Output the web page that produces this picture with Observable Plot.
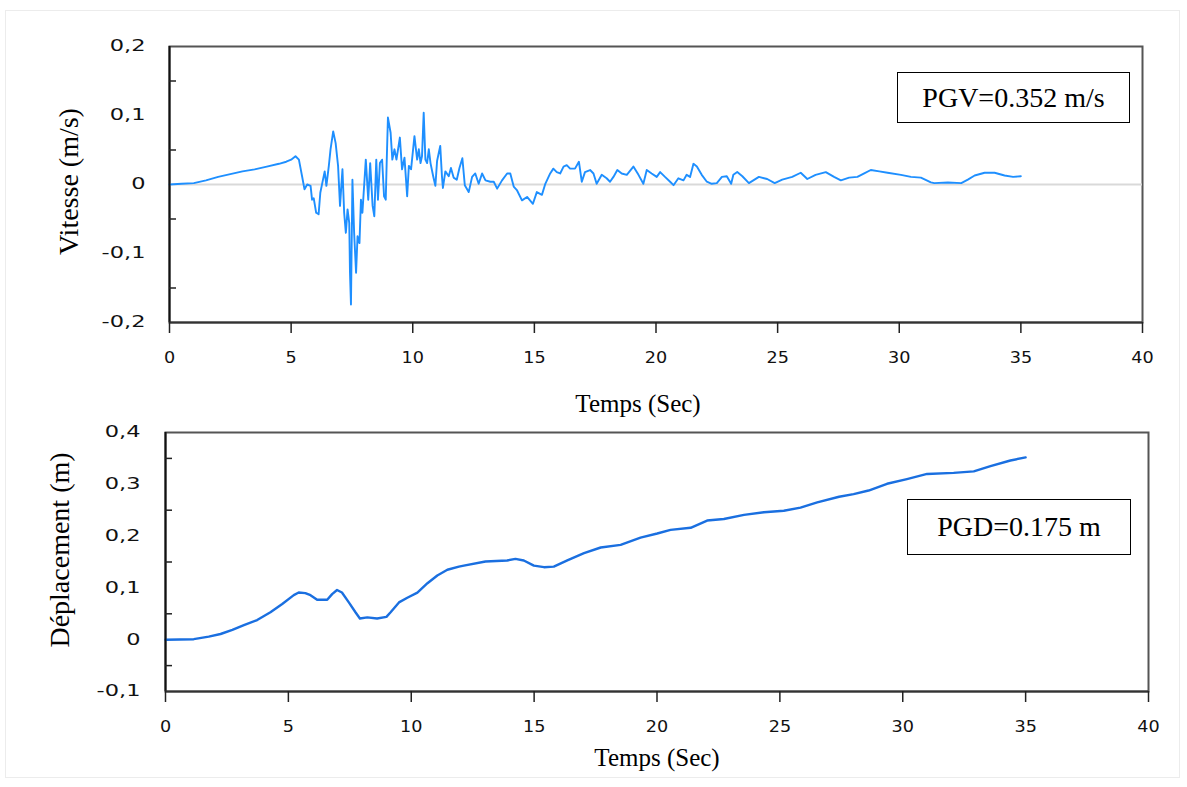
<!DOCTYPE html>
<html><head><meta charset="utf-8">
<script src="https://cdn.jsdelivr.net/npm/d3@7"></script>
<script src="https://cdn.jsdelivr.net/npm/@observablehq/plot@0.6"></script>
<style>
body{margin:0;background:#fff;}
#wrap{position:relative;width:1187px;height:787px;background:#fff;overflow:hidden;}
#edge{position:absolute;left:5px;top:10px;width:1175px;height:768px;border:1px solid #ececec;box-sizing:border-box;}
.panel{position:absolute;left:0;}
.box{position:absolute;border:1.5px solid #000;display:flex;align-items:center;justify-content:center;font-family:"Liberation Serif","Times New Roman",serif;font-size:28px;color:#000;background:#fff;box-sizing:border-box;}
</style></head><body>
<div id="wrap">
  <div id="edge"></div>
  <div id="top" class="panel" style="top:0px"></div>
  <div id="bot" class="panel" style="top:400px"></div>
  <div class="box" style="left:897px;top:72px;width:233px;height:51px">PGV=0.352 m/s</div>
  <div class="box" style="left:907px;top:499px;width:224px;height:56px">PGD=0.175 m</div>
</div>
<script>
// ---- data ----
const velTime = [
  0,0.5,1.0,1.5,2.0,2.5,3.0,3.5,4.0,4.5,
  4.8,5.0,5.18,5.32,5.45,5.55,5.66,5.8,5.86,5.93,
  6.03,6.13,6.2,6.31,6.38,6.45,6.55,6.62,6.73,6.83,
  6.93,7.01,7.11,7.18,7.25,7.32,7.39,7.42,7.46,7.52,
  7.59,7.67,7.73,7.81,7.87,7.93,8.07,8.17,8.25,8.35,
  8.42,8.5,8.57,8.65,8.74,8.82,8.89,8.93,8.98,9.09,
  9.16,9.25,9.33,9.47,9.56,9.66,9.77,9.84,9.93,10.07,
  10.18,10.25,10.32,10.38,10.45,10.52,10.59,10.66,10.73,10.84,
  10.93,11.0,11.13,11.2,11.24,11.34,11.48,11.57,11.68,11.81,
  11.92,12.04,12.14,12.3,12.44,12.57,12.71,12.85,12.99,13.19,
  13.33,13.47,13.67,13.88,14.01,14.15,14.28,14.49,14.7,14.94,
  15.1,15.31,15.45,15.65,15.78,15.92,16.06,16.2,16.33,16.47,
  16.67,16.83,16.95,17.08,17.29,17.43,17.56,17.77,17.97,18.11,
  18.25,18.41,18.59,18.8,19.07,19.28,19.48,19.62,19.82,20.03,
  20.17,20.37,20.58,20.72,20.92,21.13,21.26,21.4,21.54,21.68,
  21.88,22.09,22.29,22.5,22.71,22.91,23.09,23.18,23.34,23.55,
  23.82,24.23,24.57,24.88,25.19,25.6,25.95,26.22,26.56,26.98,
  27.32,27.6,27.94,28.28,28.56,28.83,29.18,29.52,30.07,30.48,
  30.89,31.3,31.44,32.0,32.55,32.82,33.1,33.51,33.92,34.33,
  34.68,35.0
];
const velValue = [
  0,0.001,0.002,0.006,0.011,0.015,0.019,0.022,0.026,0.030,
  0.033,0.036,0.041,0.036,0.012,-0.007,0.000,-0.002,-0.022,-0.020,
  -0.041,-0.043,-0.012,0.007,0.019,-0.002,0.027,0.051,0.077,0.060,
  0.027,-0.031,0.022,-0.041,-0.070,-0.036,-0.056,-0.128,-0.174,0.007,
  -0.070,-0.128,-0.075,-0.085,-0.022,-0.041,0.036,-0.022,0.031,-0.031,
  -0.046,0.036,-0.022,0.031,0.036,-0.017,-0.022,0.034,0.097,0.075,
  0.036,0.051,0.036,0.068,0.022,0.039,-0.017,0.027,0.022,0.070,
  0.036,0.051,0.031,0.041,0.104,0.036,0.031,0.051,0.031,0.012,
  -0.002,0.034,0.056,0.012,-0.005,0.019,0.012,0.024,0.010,0.007,
  0.024,0.038,-0.001,-0.011,0.011,0.016,0.001,0.016,0.006,0.004,
  0.004,-0.006,0.006,0.016,0.016,-0.003,-0.008,-0.023,-0.018,-0.028,
  -0.011,-0.015,0.001,0.016,0.023,0.018,0.016,0.026,0.028,0.023,
  0.023,0.033,0.004,0.018,0.021,0.016,0.001,0.014,0.009,0.004,
  0.011,0.021,0.016,0.014,0.026,0.014,0.001,0.021,0.016,0.011,
  0.018,0.011,0.004,-0.001,0.009,0.006,0.014,0.011,0.030,0.026,
  0.014,0.004,0.001,0.002,0.011,0.012,0.001,0.014,0.018,0.012,
  0.002,0.011,0.008,0.002,0.007,0.011,0.017,0.008,0.014,0.018,
  0.011,0.006,0.010,0.011,0.016,0.021,0.019,0.017,0.014,0.011,
  0.010,0.003,0.002,0.003,0.002,0.007,0.013,0.017,0.017,0.013,
  0.011,0.012
];
const dispTime = [
  0,1.15,1.76,2.24,2.72,3.19,3.73,4.27,4.75,5.22,
  5.42,5.69,5.9,6.17,6.58,6.78,6.98,7.18,7.46,7.73,
  7.91,8.21,8.61,8.99,9.16,9.5,9.84,10.25,10.66,11.06,
  11.47,11.94,12.14,13.02,13.9,14.24,14.58,14.99,15.4,15.8,
  16.35,17.03,17.71,18.52,19.33,20.01,20.55,21.37,22.04,22.72,
  23.54,24.35,25.16,25.84,26.52,27.41,28.0,28.61,29.36,30.17,
  30.99,32.07,32.89,33.57,34.38,35.0
];
const dispValue = [
  0,0.001,0.006,0.011,0.019,0.028,0.038,0.053,0.069,0.086,
  0.091,0.090,0.086,0.077,0.077,0.088,0.096,0.091,0.072,0.053,
  0.041,0.043,0.041,0.044,0.053,0.072,0.081,0.091,0.109,0.124,
  0.135,0.141,0.143,0.151,0.153,0.156,0.153,0.143,0.140,0.141,
  0.153,0.167,0.178,0.183,0.197,0.205,0.212,0.216,0.230,0.233,
  0.241,0.246,0.249,0.255,0.265,0.276,0.281,0.288,0.301,0.310,
  0.320,0.322,0.325,0.335,0.346,0.352
];
const xTicks = [0,5,10,15,20,25,30,35,40];
const velTicks = [-0.2,-0.1,0,0.1,0.2];
const velMinorTicks = [-0.15,-0.05,0.05,0.15];
const dispTicks = [-0.1,0,0.1,0.2,0.3,0.4];
const dispMinorTicks = [-0.05,0.05,0.15,0.25,0.35];
const xTitle = "Temps (Sec)";
const velTitle = "Vitesse (m/s)";
const dispTitle = "Déplacement (m)";

const commaFmt = d => d === 0 ? "0" : d3.format(".1f")(d).replace(".", ",").replace("\u2212", "-");

function panel(o) {
  const data = o.time.map((t, i) => ({t, v: o.values[i]}));
  const innerW = o.width - o.mL - o.mR;
  const serif = "Liberation Serif, Times New Roman, serif";
  const marks = [
    Plot.frame({stroke: "#555", strokeWidth: 2}),
  ];
  if (o.zeroLine) marks.push(Plot.ruleY([0], {stroke: "#d9d9d9", strokeWidth: 2}));
  marks.push(
    Plot.line(data, {x: "t", y: "v", stroke: o.color, strokeWidth: o.lineWidth, strokeLinejoin: "round"}),
    Plot.ruleX([0], {stroke: "#111", strokeWidth: 2}),
    Plot.ruleY([o.yDomain[0]], {stroke: "#333", strokeWidth: 2}),
    Plot.ruleY(o.yMinor, {stroke: "#222", strokeWidth: 1.5, insetRight: innerW - 7}),
    Plot.axisX({ticks: xTicks, tickSize: 11, tickPadding: 18, tickFormat: d => String(d), label: null, fontSize: 16, stroke: "#222", strokeWidth: 1.5, fill: "#111"}),
    Plot.axisY({ticks: o.yTicks, tickSize: 0, tickPadding: o.yPad, tickFormat: commaFmt, label: null, fontSize: 15, fill: "#111"}),
    Plot.text([o.yLabel], {frameAnchor: "left", textAnchor: "middle", lineAnchor: "middle", dx: o.yLabelDx, dy: o.yLabelDy, rotate: -90, fontSize: 28, fontFamily: serif, fill: "#000"}),
    Plot.text([xTitle], {frameAnchor: "bottom", textAnchor: "middle", lineAnchor: "middle", dx: o.xLabelDx, dy: o.xLabelDy, fontSize: 25, fontFamily: serif, fill: "#000"})
  );
  return Plot.plot({
    width: o.width, height: o.height,
    marginLeft: o.mL, marginRight: o.mR, marginTop: o.mT, marginBottom: o.mB,
    style: {fontFamily: "DejaVu Sans, Verdana, sans-serif", color: "#111", background: "transparent", overflow: "visible"},
    x: {domain: [0, 40]},
    y: {domain: o.yDomain},
    marks
  });
}

function stretch(svg, sel, factor) {
  svg.querySelectorAll(sel).forEach(t => {
    const w = t.getComputedTextLength();
    t.setAttribute("textLength", (w * factor).toFixed(1));
    t.setAttribute("lengthAdjust", "spacingAndGlyphs");
  });
}

const topSvg = panel({
  time: velTime, values: velValue, yDomain: [-0.2, 0.2], yTicks: velTicks, yMinor: velMinorTicks,
  yLabel: velTitle, color: "#1e8fff", lineWidth: 1.9, zeroLine: true,
  width: 1187, height: 400, mL: 169, mR: 45, mT: 46, mB: 78, yPad: 24,
  yLabelDx: -100, yLabelDy: -3, xLabelDx: -18, xLabelDy: 81
});
document.getElementById("top").appendChild(topSvg);

const botSvg = panel({
  time: dispTime, values: dispValue, yDomain: [-0.1, 0.4], yTicks: dispTicks, yMinor: dispMinorTicks,
  yLabel: dispTitle, color: "#1a6fe0", lineWidth: 2.4, zeroLine: false,
  width: 1187, height: 387, mL: 165, mR: 39, mT: 32, mB: 96, yPad: 25,
  yLabelDx: -105, yLabelDy: -12, xLabelDx: 0, xLabelDy: 66
});
document.getElementById("bot").appendChild(botSvg);

for (const s of [topSvg, botSvg]) {
  stretch(s, 'g[aria-label="y-axis tick label"] text', 1.5);
  stretch(s, 'g[aria-label="x-axis tick label"] text', 1.1);
}
</script>
</body></html>
